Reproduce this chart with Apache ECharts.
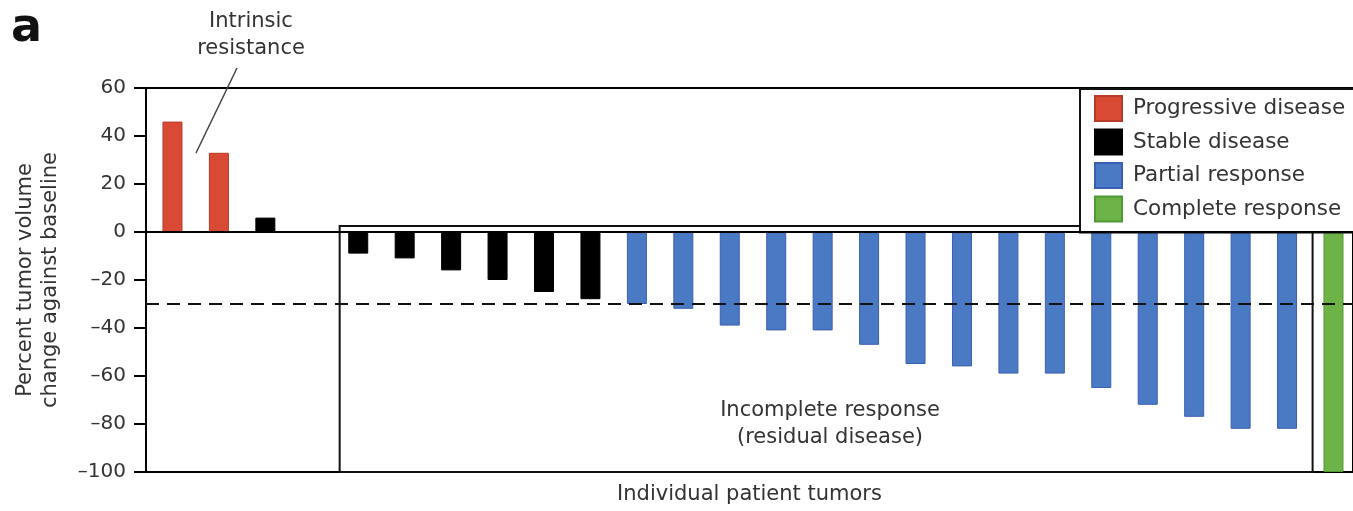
<!DOCTYPE html>
<html>
<head>
<meta charset="utf-8">
<script src="https://cdn.jsdelivr.net/npm/echarts@6/dist/echarts.min.js"></script>
<style>
  html, body { margin: 0; padding: 0; background: #fff; }
  #waterfall { width: 1353px; height: 511px; }
</style>
</head>
<body>
<div id="waterfall"></div>
<script>
// patient slot on the x axis (slot 3 is left empty in the figure)
const progressiveSlots = [0, 1]
const progressiveValues = [46, 33]
const stableSlots = [2, 4, 5, 6, 7, 8, 9]
const stableValues = [6, -9, -11, -16, -20, -25, -28]
const partialSlots = [10, 11, 12, 13, 14, 15, 16, 17, 18, 19, 20, 21, 22, 23, 24]
const partialValues = [-30, -32, -39, -41, -41, -47, -55, -56, -59, -59, -65, -72, -77, -82, -82]
const completeSlots = [25]
const completeValues = [-100]

const yTicks = [-100, -80, -60, -40, -20, 0, 20, 40, 60]
const responseCutoff = -30

const FONT = 'DejaVu Sans'
const TEXT = '#333'

const pairs = (slots, values) => slots.map((s, i) => [s, values[i]])

const barSeries = (name, color, border, slots, values) => ({
  name: name,
  type: 'bar',
  barWidth: 20,
  barGap: '-100%',
  itemStyle: { color: color, borderColor: border, borderWidth: 1 },
  data: pairs(slots, values)
})

const chart = echarts.init(document.getElementById('waterfall'))

const progressive = barSeries('Progressive disease', '#d84a33', '#b63a27', progressiveSlots, progressiveValues)
const stable = barSeries('Stable disease', '#000', '#000', stableSlots, stableValues)
const partial = barSeries('Partial response', '#4a7ac4', '#3a5fb2', partialSlots, partialValues)
const complete = barSeries('Complete response', '#6db347', '#4f9a34', completeSlots, completeValues)

// zero line, -30% threshold and the "incomplete response" box
stable.markLine = {
  silent: true,
  symbol: 'none',
  label: { show: false },
  data: [
    { yAxis: 0, lineStyle: { color: '#000', width: 2, type: 'solid' } },
    { yAxis: responseCutoff, lineStyle: { color: '#111', width: 2, type: [13, 8] } }
  ]
}
partial.markArea = {
  silent: true,
  itemStyle: { color: 'rgba(0,0,0,0)', borderColor: '#111', borderWidth: 2 },
  data: [[{ xAxis: 3.6, yAxis: 2.5 }, { xAxis: 24.55, yAxis: -100 }]]
}

chart.setOption({
  animation: false,
  textStyle: { fontFamily: FONT },
  grid: {
    left: 146,
    right: -10,
    top: 88,
    height: 384,
    show: true,
    borderColor: '#000',
    borderWidth: 2
  },
  legend: {
    orient: 'vertical',
    left: 1080,
    top: 89,
    itemWidth: 27,
    itemHeight: 25,
    itemGap: 6.5,
    icon: 'rect',
    padding: [6, 20, 10, 14],
    borderColor: '#111',
    borderWidth: 2,
    backgroundColor: '#fff',
    textStyle: { fontSize: 21.5, color: TEXT, fontFamily: FONT, padding: [0, 0, 0, 6] },
    data: ['Progressive disease', 'Stable disease', 'Partial response', 'Complete response']
  },
  xAxis: {
    type: 'value',
    min: -0.57,
    max: 25.42,
    name: 'Individual patient tumors',
    nameLocation: 'middle',
    nameGap: 12,
    nameTextStyle: { fontSize: 21, color: TEXT, fontFamily: FONT },
    axisLine: { show: true, onZero: false, lineStyle: { color: '#000', width: 2 } },
    axisTick: { show: false },
    axisLabel: { show: false },
    splitLine: { show: false }
  },
  yAxis: {
    type: 'value',
    min: yTicks[0],
    max: yTicks[yTicks.length - 1],
    interval: 20,
    name: 'Percent tumor volume\nchange against baseline',
    nameLocation: 'middle',
    nameGap: 83,
    nameTextStyle: { fontSize: 21, color: TEXT, fontFamily: FONT, lineHeight: 25 },
    axisLine: { show: true, onZero: false, lineStyle: { color: '#000', width: 2 } },
    axisTick: { show: true, inside: false, length: 12, lineStyle: { color: '#000', width: 2 } },
    axisLabel: {
      margin: 20,
      fontSize: 20,
      color: TEXT,
      fontFamily: FONT,
      formatter: (v) => v < 0 ? '\u2013' + Math.abs(v) : String(v)
    },
    splitLine: { show: false }
  },
  graphic: [
    { type: 'text', left: 11, top: 6, style: { text: 'a', font: 'bold 46px ' + FONT, fill: '#111' } },
    {
      type: 'text', x: 251, y: 8,
      style: { text: 'Intrinsic\nresistance', font: '21px ' + FONT, fill: TEXT, align: 'center', lineHeight: 27 }
    },
    { type: 'line', shape: { x1: 237, y1: 68, x2: 196, y2: 153 }, style: { stroke: '#444', lineWidth: 1.5 } },
    {
      type: 'text', x: 830, y: 397,
      style: { text: 'Incomplete response\n(residual disease)', font: '21px ' + FONT, fill: TEXT, align: 'center', lineHeight: 27 }
    }
  ],
  series: [progressive, stable, partial, complete]
})
</script>
</body>
</html>
